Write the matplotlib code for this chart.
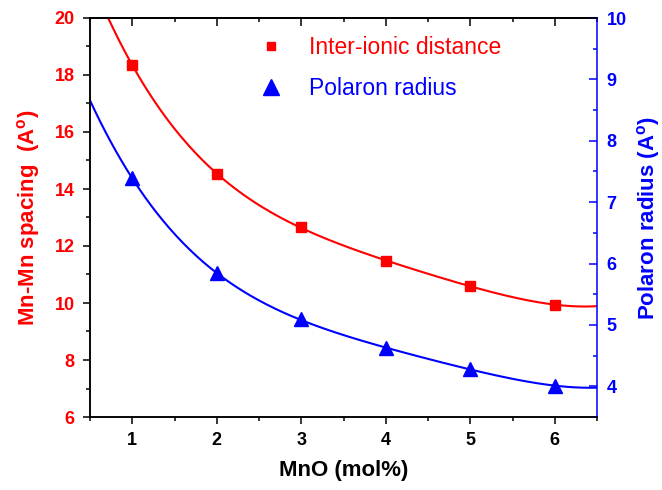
import numpy as np
import matplotlib
matplotlib.use("Agg")
import matplotlib.pyplot as plt
from matplotlib.lines import Line2D
from matplotlib.ticker import MultipleLocator

plt.rcParams['font.family'] = ['Liberation Sans', 'DejaVu Sans']
plt.rcParams['mathtext.default'] = 'regular'

# MnO content (mol%)
mno = [1, 2, 3, 4, 5, 6]
# Mn-Mn inter-ionic distance (Angstrom)
spacing = [18.35, 14.53, 12.66, 11.47, 10.60, 9.94]
# Polaron radius (Angstrom)
polaron = [7.39, 5.84, 5.09, 4.62, 4.28, 4.01]

RED = '#ff0000'
BLUE = '#0000ff'

fig = plt.figure(figsize=(6.62, 4.90), dpi=100)
ax = fig.add_axes([90/662, 1-417/490, (597-90)/662, (417-18)/490])
ax2 = ax.twinx()

# 4th-order polynomial fits drawn across the full x-range
xf = np.linspace(0.5, 6.5, 300)
fit_s = np.polyval(np.polyfit(mno, spacing, 4), xf)
fit_p = np.polyval(np.polyfit(mno, polaron, 4), xf)

ax.plot(xf, fit_s, color=RED, lw=1.5, zorder=2)
ax.plot(mno, spacing, ls='none', marker='s', ms=6.8, color=RED, zorder=3)
ax2.plot(xf, fit_p, color=BLUE, lw=1.5, zorder=2)
ax2.plot(mno, polaron, ls='none', marker='^', ms=10.5, color=BLUE, zorder=3)

ax.set_xlim(0.5, 6.5)
ax.set_ylim(6, 20)
ax2.set_ylim(3.5, 10)

ax.xaxis.set_major_locator(MultipleLocator(1))
ax.xaxis.set_minor_locator(MultipleLocator(0.5))
ax.yaxis.set_major_locator(MultipleLocator(2))
ax.yaxis.set_minor_locator(MultipleLocator(1))
ax2.yaxis.set_major_locator(MultipleLocator(1))
ax2.yaxis.set_minor_locator(MultipleLocator(0.5))
ax.set_xticks([1, 2, 3, 4, 5, 6])

for a in (ax, ax2):
    for s in a.spines.values():
        s.set_linewidth(1.1)
ax2.spines['right'].set_color(BLUE)
ax.spines['right'].set_visible(False)

ax.tick_params(axis='both', which='major', direction='out', length=5, width=1.1,
               labelsize=13, pad=6)
ax.tick_params(axis='both', which='minor', direction='out', length=3, width=1.1)
ax.tick_params(axis='y', labelcolor=RED)
ax2.tick_params(axis='y', which='major', direction='in', length=5.5, width=1.1,
                color=BLUE, labelcolor=BLUE, labelsize=13, pad=7)
ax2.tick_params(axis='y', which='minor', direction='in', length=3, width=1.1,
                color=BLUE)
for lab in ax.get_xticklabels() + ax.get_yticklabels() + ax2.get_yticklabels():
    lab.set_fontweight('bold')

# inward ticks along the top edge
top = ax.secondary_xaxis('top')
top.xaxis.set_major_locator(MultipleLocator(1))
top.xaxis.set_minor_locator(MultipleLocator(0.5))
top.tick_params(which='major', direction='in', length=5.5, width=1.1, labeltop=False)
top.tick_params(which='minor', direction='in', length=3, width=1.1)
top.spines['top'].set_linewidth(1.1)

ax.set_xlabel('MnO (mol%)', fontsize=16, fontweight='bold', labelpad=8)
ax.set_ylabel('Mn-Mn spacing  (A$^{o}$)', fontsize=16, fontweight='bold',
              color=RED, labelpad=9)
ax2.set_ylabel('Polaron radius (A$^{o}$)', fontsize=16, fontweight='bold',
               color=BLUE, labelpad=6)

handles = [
    Line2D([], [], ls='none', marker='s', ms=5.8, color=RED),
    Line2D([], [], ls='none', marker='^', ms=12, color=BLUE),
]
leg = ax.legend(handles, ['Inter-ionic distance', 'Polaron radius'],
                loc='upper left', bbox_to_anchor=(259.5/662, 1-36/490),
                bbox_transform=fig.transFigure, frameon=False, fontsize=16.5,
                handlelength=1.0, handletextpad=1.16, labelspacing=0.8,
                borderpad=0, borderaxespad=0)
for txt, c in zip(leg.get_texts(), (RED, BLUE)):
    txt.set_color(c)

fig.savefig('out.png', dpi=100)
